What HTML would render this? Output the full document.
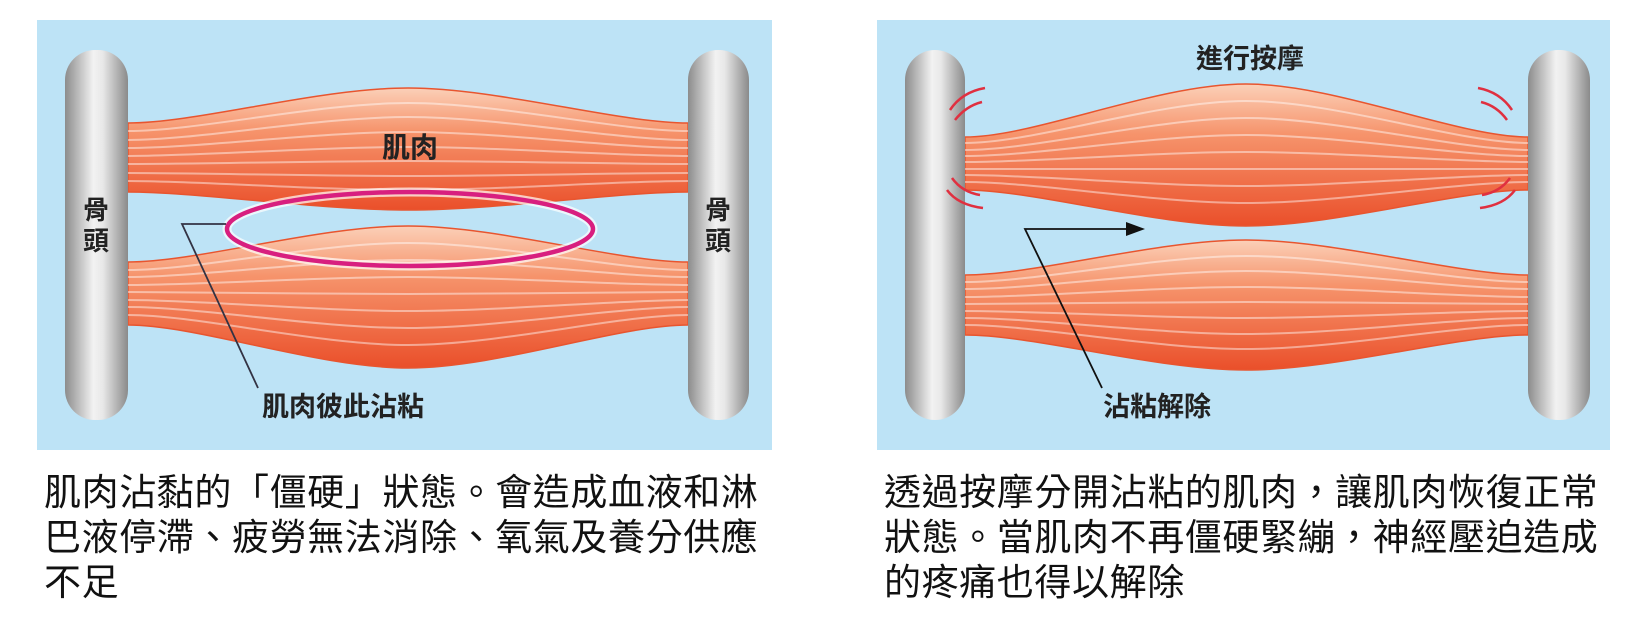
<!DOCTYPE html>
<html><head><meta charset="utf-8"><style>
html,body{margin:0;padding:0;background:#fff;width:1647px;height:631px;overflow:hidden}
svg{position:absolute;left:0;top:0}
.t{position:absolute;font-family:"Liberation Sans","Noto Sans CJK TC",sans-serif;font-size:37px;line-height:45px;color:#111;letter-spacing:0.6px;white-space:nowrap}
</style></head><body>
<svg width="1647" height="631" viewBox="0 0 1647 631">
<defs>
<linearGradient id="m" x1="0" y1="0" x2="0" y2="1">
<stop offset="0" stop-color="#fbd0b8"/><stop offset="0.35" stop-color="#f6946c"/><stop offset="1" stop-color="#ea4f2a"/>
</linearGradient>
<linearGradient id="b" x1="0" y1="0" x2="1" y2="0">
<stop offset="0" stop-color="#8c8c8c"/><stop offset="0.45" stop-color="#f2f2f2"/><stop offset="0.6" stop-color="#e8e8e8"/><stop offset="1" stop-color="#8a8a8a"/>
</linearGradient>
</defs>
<rect x="37" y="20" width="735" height="430" fill="#bde3f6"/>
<rect x="877" y="20" width="733" height="430" fill="#bde3f6"/>
<g stroke="#e8552f" stroke-width="1.5">
<path fill="url(#m)" d="M128 123 C198 123 318 88 408 88 S618 123 688 123 L688 192 C618 192 498 210 408 210 S198 192 128 192 Z"/>
<path fill="url(#m)" d="M128 262 C198 262 318 226 408 226 S618 262 688 262 L688 325 C618 325 498 368 408 368 S198 325 128 325 Z"/>
<path fill="url(#m)" d="M965 137 C1035 137 1156 84 1246 84 S1458 137 1528 137 L1528 190 C1458 190 1336 226 1246 226 S1035 190 965 190 Z"/>
<path fill="url(#m)" d="M965 275 C1035 275 1156 240 1246 240 S1458 275 1528 275 L1528 335 C1458 335 1336 370 1246 370 S1035 335 965 335 Z"/>
</g>
<g fill="none" stroke="#fff" stroke-opacity="0.45" stroke-width="2">
<path d="M128 131 C198 131 318 103 408 103 S618 131 688 131"/>
<path d="M128 140 C198 140 318 117 408 117 S618 140 688 140"/>
<path d="M128 148 C198 148 318 132 408 132 S618 148 688 148"/>
<path d="M128 156 C198 156 318 147 408 147 S618 156 688 156"/>
<path d="M128 164 C198 164 318 161 408 161 S618 164 688 164"/>
<path d="M128 173 C198 173 318 176 408 176 S618 173 688 173"/>
<path d="M128 181 C198 181 318 190 408 190 S618 181 688 181"/>
<path d="M128 270 C198 270 318 243 408 243 S618 270 688 270"/>
<path d="M128 277 C198 277 318 260 408 260 S618 277 688 277"/>
<path d="M128 285 C198 285 318 277 408 277 S618 285 688 285"/>
<path d="M128 292 C198 292 318 294 408 294 S618 292 688 292"/>
<path d="M128 300 C198 300 318 311 408 311 S618 300 688 300"/>
<path d="M128 307 C198 307 318 328 408 328 S618 307 688 307"/>
<path d="M128 315 C198 315 318 345 408 345 S618 315 688 315"/>
<path d="M965 143 C1035 143 1156 101 1246 101 S1458 143 1528 143"/>
<path d="M965 150 C1035 150 1156 118 1246 118 S1458 150 1528 150"/>
<path d="M965 156 C1035 156 1156 135 1246 135 S1458 156 1528 156"/>
<path d="M965 162 C1035 162 1156 152 1246 152 S1458 162 1528 162"/>
<path d="M965 169 C1035 169 1156 169 1246 169 S1458 169 1528 169"/>
<path d="M965 175 C1035 175 1156 186 1246 186 S1458 175 1528 175"/>
<path d="M965 182 C1035 182 1156 203 1246 203 S1458 182 1528 182"/>
<path d="M965 282 C1035 282 1156 256 1246 256 S1458 282 1528 282"/>
<path d="M965 289 C1035 289 1156 271 1246 271 S1458 289 1528 289"/>
<path d="M965 297 C1035 297 1156 287 1246 287 S1458 297 1528 297"/>
<path d="M965 304 C1035 304 1156 302 1246 302 S1458 304 1528 304"/>
<path d="M965 311 C1035 311 1156 318 1246 318 S1458 311 1528 311"/>
<path d="M965 318 C1035 318 1156 334 1246 334 S1458 318 1528 318"/>
<path d="M965 325 C1035 325 1156 349 1246 349 S1458 325 1528 325"/>
</g>
<rect x="65" y="50" width="63" height="370" rx="30" fill="url(#b)"/>
<rect x="688" y="50" width="61" height="370" rx="30" fill="url(#b)"/>
<rect x="905" y="50" width="60" height="370" rx="30" fill="url(#b)"/>
<rect x="1528" y="50" width="62" height="370" rx="30" fill="url(#b)"/>
<ellipse cx="410" cy="229" rx="183" ry="37" fill="none" stroke="#fff" stroke-width="9" stroke-opacity="0.7"/>
<ellipse cx="410" cy="229" rx="183" ry="37" fill="none" stroke="#d81f7f" stroke-width="4.5"/>
<polyline points="226,224 182,224 258,388" fill="none" stroke="#334" stroke-width="1.8"/>
<polyline points="1130,229 1025,229 1102,388" fill="none" stroke="#111" stroke-width="1.8"/>
<polygon points="1145,229 1126,222 1126,236" fill="#111"/>
<g fill="none" stroke="#e03040" stroke-width="2.5">
<path d="M985 88 Q962 92 950 110"/><path d="M982 102 Q966 106 955 120"/>
<path d="M947 190 Q958 205 983 208"/><path d="M952 178 Q962 192 980 195"/>
<path d="M1478 88 Q1500 92 1512 110"/><path d="M1481 102 Q1497 106 1507 120"/>
<path d="M1515 190 Q1504 205 1480 208"/><path d="M1510 178 Q1500 192 1482 195"/>
</g>
<g font-family="Liberation Sans,'Noto Sans CJK TC',sans-serif" font-weight="bold" fill="#222">
<text x="410" y="157" font-size="28" text-anchor="middle">肌肉</text>
<text x="96" y="219" font-size="26" text-anchor="middle">骨</text>
<text x="96" y="250" font-size="26" text-anchor="middle">頭</text>
<text x="718" y="219" font-size="26" text-anchor="middle">骨</text>
<text x="718" y="250" font-size="26" text-anchor="middle">頭</text>
<text x="262" y="416" font-size="27">肌肉彼此沾粘</text>
<text x="1103" y="416" font-size="27">沾粘解除</text>
<text x="1250" y="68" font-size="27" text-anchor="middle">進行按摩</text>
</g>
</svg>
<div class="t" style="left:44px;top:470px">肌肉沾黏的「僵硬」狀態。會造成血液和淋<br>巴液停滯、疲勞無法消除、氧氣及養分供應<br>不足</div>
<div class="t" style="left:884px;top:470px">透過按摩分開沾粘的肌肉，讓肌肉恢復正常<br>狀態。當肌肉不再僵硬緊繃，神經壓迫造成<br>的疼痛也得以解除</div>
</body></html>
